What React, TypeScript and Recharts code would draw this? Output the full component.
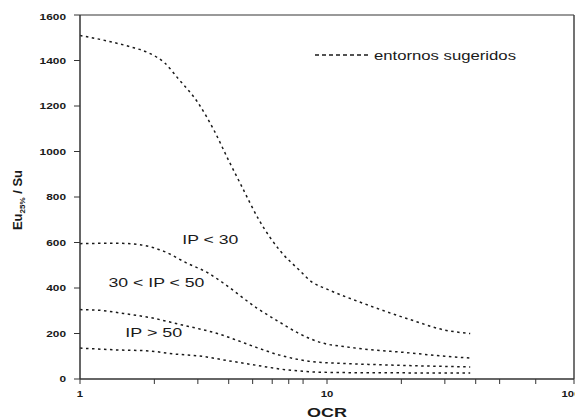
import React from 'react';
import { LineChart, Line, XAxis, YAxis, ReferenceLine, ReferenceDot, Customized } from 'recharts';

// Curve 1 (upper bound, IP < 30)
const ocr1 = [1, 1.3, 1.6, 1.9, 2.2, 2.5, 3, 3.5, 4, 4.5, 5.3, 6.5, 7.7, 8.7, 10, 13.9, 22, 30, 38];
const eu1 = [1510, 1485, 1460, 1433, 1390, 1320, 1215, 1090, 960, 850, 700, 560, 480, 426, 395, 334, 259, 215, 200];
// Curve 2
const ocr2 = [1, 1.4, 1.75, 2.2, 2.7, 3.3, 3.8, 5.2, 6.4, 7.7, 9.6, 12, 22, 30, 38];
const eu2 = [595, 597, 590, 560, 510, 466, 422, 312, 251, 200, 158, 141, 114, 100, 92];
// Curve 3
const ocr3 = [1, 1.2, 1.5, 1.92, 2.6, 3.05, 3.6, 4.2, 5.2, 6.43, 7.74, 8.74, 12, 20, 38];
const eu3 = [305, 302, 288, 270, 237, 220, 200, 175, 138, 105, 85, 76, 68, 60, 53];
// Curve 4
const ocr4 = [1, 1.4, 1.92, 2.4, 3.05, 4, 5, 5.7, 6.43, 7.74, 8.74, 12, 20, 38];
const eu4 = [136, 128, 123, 110, 101, 80, 63, 53, 44, 35, 31, 28, 27, 26];

const xTicks = [1, 2, 3, 4, 5, 6, 7, 8, 9, 10, 20, 30, 40, 50, 60, 70, 80, 90, 100];
const xTickLabels = [1, 10, 100];
const yTicks = [0, 200, 400, 600, 800, 1000, 1200, 1400, 1600];

const annoText = ['IP < 30', '30 < IP < 50', 'IP > 50'];
const annoX = [3.37, 2.04, 1.99];
const annoY = [615, 426, 204];

const legendText = 'entornos sugeridos';

const zip = (xs: number[], ys: number[]) => xs.map((x, i) => ({ x, y: ys[i] }));
const series = [zip(ocr1, eu1), zip(ocr2, eu2), zip(ocr3, eu3), zip(ocr4, eu4)];

const FONT = '"Liberation Sans", Arial, sans-serif';
const INK = '#1a1a1a';

const XTick = (props: any) => {
  const { x, y, payload } = props;
  if (!xTickLabels.includes(payload.value)) return <g />;
  const s = String(payload.value);
  return (
    <text x={x} y={y + 12.5} textAnchor="middle" fontFamily={FONT} fontWeight="bold" fontSize={9.5}
      fill={INK} textLength={s.length * 6.3} lengthAdjust="spacingAndGlyphs">{s}</text>
  );
};

const YTick = (props: any) => {
  const { x, y, payload } = props;
  const s = String(payload.value);
  return (
    <text x={x} y={y + 3.4} textAnchor="end" fontFamily={FONT} fontWeight="bold" fontSize={9.5}
      fill={INK} textLength={s.length * 6.6} lengthAdjust="spacingAndGlyphs">{s}</text>
  );
};

const annoWidths = [56, 96, 57];

const makeAnno = (i: number) => (props: any) => {
  const vb = props.viewBox || {};
  const cx = (vb.x ?? 0) + (vb.width ?? 0) / 2;
  const cy = (vb.y ?? 0) + (vb.height ?? 0) / 2;
  return (
    <text x={cx} y={cy + 4.7} textAnchor="middle" fontFamily={FONT} fontSize={13} fill={INK}
      textLength={annoWidths[i]} lengthAdjust="spacingAndGlyphs">{annoText[i]}</text>
  );
};

const Extras = () => (
  <g>
    {/* legend */}
    <line x1={307} y1={47} x2={360} y2={47} stroke={INK} strokeWidth={1.3} strokeDasharray="4 3" />
    <text x={366} y={51.5} fontFamily={FONT} fontSize={13} fill={INK}
      textLength={142} lengthAdjust="spacingAndGlyphs">{legendText}</text>
    {/* x axis title */}
    <text x={319} y={409} textAnchor="middle" fontFamily={FONT} fontWeight="bold" fontSize={12} fill={INK}
      textLength={40} lengthAdjust="spacingAndGlyphs">OCR</text>
    {/* y axis title */}
    <text x={14} y={192} transform="rotate(-90, 14, 192)" textAnchor="middle" fontFamily={FONT}
      fontWeight="bold" fontSize={13} fill={INK}>
      <tspan>Eu</tspan>
      <tspan fontSize={8} dy={3}>25%</tspan>
      <tspan dy={-3}> / Su</tspan>
    </text>
  </g>
);

export default function App() {
  return (
    <LineChart width={575} height={412} margin={{ top: 7, right: 9, bottom: 0, left: 0 }}>
      <XAxis dataKey="x" type="number" scale="log" domain={[1, 100]} ticks={xTicks} allowDataOverflow
        height={41} tick={<XTick />} tickSize={5} tickMargin={0}
        axisLine={{ stroke: '#333', strokeWidth: 1.5 }} tickLine={{ stroke: '#333', strokeWidth: 1 }} />
      <YAxis type="number" domain={[0, 1600]} ticks={yTicks} width={72} tick={<YTick />}
        tickSize={6} tickMargin={8} axisLine={{ stroke: '#333', strokeWidth: 1.5 }}
        tickLine={{ stroke: '#333', strokeWidth: 1 }} />
      <ReferenceLine y={1600} stroke="#999" strokeWidth={2} />
      <ReferenceLine x={100} stroke="#444" strokeWidth={1.5} />
      {series.map((d, i) => (
        <Line key={i} data={d} dataKey="y" type="monotone" stroke={INK} strokeWidth={1.5}
          strokeDasharray="2.5 3.5" dot={false} activeDot={false} isAnimationActive={false} />
      ))}
      {annoText.map((t, i) => (
        <ReferenceDot key={t} x={annoX[i]} y={annoY[i]} r={1} fill="none" stroke="none" label={makeAnno(i)} />
      ))}
      <Customized component={Extras} />
    </LineChart>
  );
}
